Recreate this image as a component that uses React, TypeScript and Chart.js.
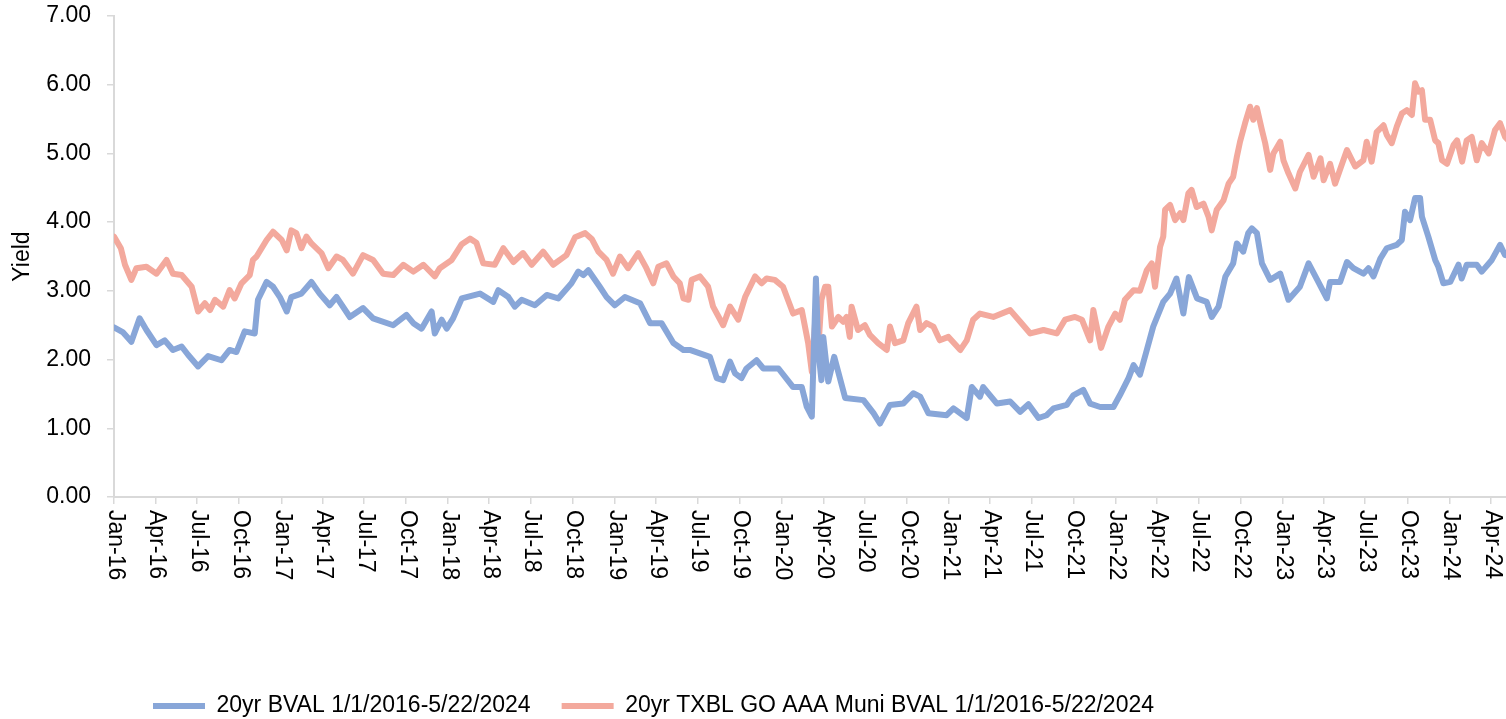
import { useEffect, useRef } from 'react';
import { Chart, registerables } from 'chart.js';

Chart.register(...registerables);

const seriesNames = ['20yr BVAL 1/1/2016-5/22/2024', '20yr TXBL GO AAA Muni BVAL 1/1/2016-5/22/2024'];
const seriesColors = ['#88A6D8', '#F3A99D'];

const tickLabels = [
  'Jan-16', 'Apr-16', 'Jul-16', 'Oct-16', 'Jan-17', 'Apr-17', 'Jul-17', 'Oct-17',
  'Jan-18', 'Apr-18', 'Jul-18', 'Oct-18', 'Jan-19', 'Apr-19', 'Jul-19', 'Oct-19',
  'Jan-20', 'Apr-20', 'Jul-20', 'Oct-20', 'Jan-21', 'Apr-21', 'Jul-21', 'Oct-21',
  'Jan-22', 'Apr-22', 'Jul-22', 'Oct-22', 'Jan-23', 'Apr-23', 'Jul-23', 'Oct-23',
  'Jan-24', 'Apr-24',
];

const axisStart = '2016-01-01';
const axisEnd = '2024-05-04';

const bvalDates = [
  '2016-01-01', '2016-01-20', '2016-02-08', '2016-02-26', '2016-03-12', '2016-04-03', '2016-04-21', '2016-05-09',
  '2016-05-28', '2016-06-11', '2016-07-03', '2016-07-25', '2016-08-23', '2016-09-10', '2016-09-25', '2016-10-13',
  '2016-11-04', '2016-11-11', '2016-11-30', '2016-12-14', '2016-12-29',
  '2017-01-13', '2017-01-23', '2017-02-14', '2017-03-08', '2017-03-26', '2017-04-17', '2017-05-02', '2017-05-31',
  '2017-06-29', '2017-07-21', '2017-09-03', '2017-10-02', '2017-10-17', '2017-11-04', '2017-11-26', '2017-12-03',
  '2017-12-18', '2017-12-29',
  '2018-01-12', '2018-01-31', '2018-03-12', '2018-04-10', '2018-04-21', '2018-05-13', '2018-05-27', '2018-06-11',
  '2018-07-10', '2018-08-05', '2018-08-30', '2018-09-28', '2018-10-13', '2018-10-24', '2018-11-04', '2018-11-29',
  '2018-12-14',
  '2019-01-01', '2019-01-23', '2019-02-25', '2019-03-19', '2019-04-13', '2019-05-09', '2019-05-31', '2019-06-14',
  '2019-07-28', '2019-08-12', '2019-08-26', '2019-09-10', '2019-09-21', '2019-10-05', '2019-10-16', '2019-11-07',
  '2019-11-22', '2019-12-25',
  '2020-01-26', '2020-02-14', '2020-02-25', '2020-03-07', '2020-03-16', '2020-03-21', '2020-03-28', '2020-04-01',
  '2020-04-12', '2020-04-25', '2020-05-19', '2020-06-28', '2020-07-20', '2020-08-03', '2020-08-25', '2020-09-23',
  '2020-10-15', '2020-10-30', '2020-11-17', '2020-12-27',
  '2021-01-11', '2021-02-09', '2021-02-20', '2021-03-10', '2021-03-17', '2021-04-16', '2021-05-15', '2021-06-06',
  '2021-06-24', '2021-07-16', '2021-08-03', '2021-08-18', '2021-09-16', '2021-09-30', '2021-10-22', '2021-11-06',
  '2021-11-28', '2021-12-27',
  '2022-01-10', '2022-01-29', '2022-02-09', '2022-02-23', '2022-03-10', '2022-03-24', '2022-04-15', '2022-04-30',
  '2022-05-14', '2022-05-29', '2022-06-10', '2022-06-28', '2022-07-19', '2022-07-30', '2022-08-14', '2022-08-29',
  '2022-09-15', '2022-09-23', '2022-10-07', '2022-10-18', '2022-10-26', '2022-11-06', '2022-11-17', '2022-12-05',
  '2022-12-27',
  '2023-01-14', '2023-02-08', '2023-02-27', '2023-03-18', '2023-04-08', '2023-04-15', '2023-05-07', '2023-05-22',
  '2023-06-05', '2023-06-27', '2023-07-08', '2023-07-19', '2023-08-03', '2023-08-17', '2023-09-08', '2023-09-19',
  '2023-09-26', '2023-10-07', '2023-10-18', '2023-10-29', '2023-11-02', '2023-11-16', '2023-12-01', '2023-12-08',
  '2023-12-19',
  '2024-01-03', '2024-01-21', '2024-01-28', '2024-02-08', '2024-03-01', '2024-03-12', '2024-04-03', '2024-04-21',
  '2024-05-02', '2024-05-22',
];
const bvalValues = [
  2.47, 2.40, 2.26, 2.60, 2.43, 2.21, 2.28, 2.14,
  2.19, 2.07, 1.90, 2.05, 1.99, 2.14, 2.11, 2.41,
  2.38, 2.87, 3.13, 3.06, 2.91,
  2.70, 2.91, 2.96, 3.13, 2.96, 2.79, 2.91, 2.62,
  2.75, 2.60, 2.50, 2.65, 2.53, 2.45, 2.70, 2.38,
  2.58, 2.45,
  2.60, 2.89, 2.96, 2.84, 3.01, 2.91, 2.77, 2.87,
  2.79, 2.94, 2.89, 3.11, 3.28, 3.23, 3.30, 3.06,
  2.91,
  2.79, 2.91, 2.82, 2.53, 2.53, 2.24, 2.14, 2.14,
  2.04, 1.73, 1.70, 1.97, 1.80, 1.73, 1.87, 1.99,
  1.87, 1.87,
  1.60, 1.60, 1.31, 1.17, 3.18, 2.14, 1.70, 2.33,
  1.68, 2.04, 1.44, 1.41, 1.22, 1.07, 1.34, 1.36,
  1.51, 1.46, 1.22, 1.19,
  1.29, 1.15, 1.60, 1.46, 1.60, 1.36, 1.39, 1.24,
  1.35, 1.15, 1.19, 1.29, 1.34, 1.48, 1.56, 1.36,
  1.31, 1.31,
  1.48, 1.73, 1.92, 1.78, 2.14, 2.48, 2.84, 2.96,
  3.18, 2.67, 3.20, 2.89, 2.84, 2.62, 2.77, 3.21,
  3.40, 3.69, 3.57, 3.84, 3.91, 3.84, 3.40, 3.16,
  3.25,
  2.87, 3.06, 3.40, 3.16, 2.89, 3.13, 3.13, 3.42,
  3.33, 3.25, 3.33, 3.21, 3.47, 3.62, 3.67, 3.74,
  4.15, 4.03, 4.35, 4.35, 4.08, 3.79, 3.45, 3.35,
  3.11,
  3.13, 3.38, 3.18, 3.38, 3.38, 3.28, 3.45, 3.67,
  3.52, 3.50,
];

const muniDates = [
  '2016-01-01', '2016-01-16', '2016-01-25', '2016-02-08', '2016-02-19', '2016-03-12', '2016-04-03', '2016-04-25',
  '2016-05-09', '2016-05-28', '2016-06-19', '2016-07-03', '2016-07-18', '2016-07-29', '2016-08-09', '2016-08-27',
  '2016-09-10', '2016-09-21', '2016-10-06', '2016-10-24', '2016-10-31', '2016-11-08', '2016-11-30', '2016-12-14',
  '2017-01-02', '2017-01-13', '2017-01-23', '2017-02-03', '2017-02-14', '2017-02-25', '2017-03-08', '2017-03-30',
  '2017-04-14', '2017-05-02', '2017-05-16', '2017-06-07', '2017-06-29', '2017-07-21', '2017-08-12', '2017-09-03',
  '2017-09-25', '2017-10-17', '2017-11-08', '2017-12-03', '2017-12-14',
  '2018-01-09', '2018-01-31', '2018-02-18', '2018-03-04', '2018-03-19', '2018-04-13', '2018-05-02', '2018-05-24',
  '2018-06-14', '2018-07-03', '2018-07-28', '2018-08-19', '2018-09-17', '2018-10-06', '2018-10-28', '2018-11-12',
  '2018-11-26', '2018-12-14', '2018-12-28',
  '2019-01-12', '2019-01-30', '2019-02-21', '2019-03-11', '2019-03-26', '2019-04-06', '2019-04-24', '2019-05-09',
  '2019-05-23', '2019-05-31', '2019-06-11', '2019-06-18', '2019-07-06', '2019-07-24', '2019-08-04', '2019-08-26',
  '2019-09-10', '2019-09-28', '2019-10-13', '2019-11-04', '2019-11-18', '2019-11-29', '2019-12-17',
  '2020-01-04', '2020-01-26', '2020-02-14', '2020-02-28', '2020-03-07', '2020-03-14', '2020-03-21', '2020-03-28',
  '2020-04-05', '2020-04-12', '2020-04-20', '2020-05-04', '2020-05-15', '2020-05-22', '2020-05-29', '2020-06-02',
  '2020-06-16', '2020-07-01', '2020-07-12', '2020-07-30', '2020-08-18', '2020-08-25', '2020-09-05', '2020-09-23',
  '2020-10-04', '2020-10-22', '2020-10-30', '2020-11-13', '2020-11-28', '2020-12-12', '2020-12-31',
  '2021-01-26', '2021-02-09', '2021-02-23', '2021-03-10', '2021-04-08', '2021-05-15', '2021-06-06', '2021-06-28',
  '2021-07-27', '2021-08-25', '2021-09-12', '2021-10-04', '2021-10-19', '2021-11-06', '2021-11-13', '2021-11-30',
  '2021-12-16', '2021-12-31',
  '2022-01-10', '2022-01-21', '2022-02-09', '2022-02-23', '2022-03-10', '2022-03-21', '2022-03-28', '2022-04-08',
  '2022-04-15', '2022-04-19', '2022-04-30', '2022-05-11', '2022-05-22', '2022-05-29', '2022-06-09', '2022-06-16',
  '2022-06-27', '2022-07-12', '2022-07-23', '2022-07-30', '2022-08-10', '2022-08-25', '2022-09-05', '2022-09-15',
  '2022-09-23', '2022-09-30', '2022-10-11', '2022-10-22', '2022-10-29', '2022-11-06', '2022-11-17', '2022-11-24',
  '2022-12-05', '2022-12-12', '2022-12-27',
  '2023-01-03', '2023-01-14', '2023-01-29', '2023-02-08', '2023-02-27', '2023-03-10', '2023-03-25', '2023-04-01',
  '2023-04-15', '2023-04-26', '2023-05-14', '2023-05-22', '2023-06-09', '2023-06-27', '2023-07-04', '2023-07-15',
  '2023-07-26', '2023-08-10', '2023-08-17', '2023-08-28', '2023-09-08', '2023-09-19', '2023-09-30', '2023-10-11',
  '2023-10-18', '2023-10-25', '2023-11-02', '2023-11-09', '2023-11-20', '2023-12-01', '2023-12-08', '2023-12-16',
  '2023-12-27',
  '2024-01-10', '2024-01-18', '2024-01-29', '2024-02-08', '2024-02-19', '2024-03-01', '2024-03-12', '2024-03-27',
  '2024-04-10', '2024-04-21', '2024-05-02', '2024-05-22',
];
const muniValues = [
  3.79, 3.62, 3.38, 3.16, 3.33, 3.35, 3.25, 3.45,
  3.25, 3.23, 3.06, 2.70, 2.82, 2.72, 2.87, 2.77,
  3.01, 2.89, 3.11, 3.23, 3.45, 3.50, 3.74, 3.86,
  3.74, 3.59, 3.88, 3.84, 3.62, 3.79, 3.69, 3.55,
  3.33, 3.50, 3.45, 3.25, 3.52, 3.45, 3.25, 3.23,
  3.38, 3.28, 3.38, 3.21, 3.33,
  3.45, 3.68, 3.76, 3.70, 3.40, 3.38, 3.62, 3.42,
  3.55, 3.38, 3.57, 3.38, 3.52, 3.78, 3.84, 3.75,
  3.57, 3.45, 3.25,
  3.50, 3.33, 3.55, 3.33, 3.11, 3.35, 3.40, 3.21,
  3.11, 2.89, 2.87, 3.16, 3.21, 3.06, 2.77, 2.50,
  2.77, 2.58, 2.91, 3.21, 3.11, 3.18, 3.16,
  3.06, 2.67, 2.72, 2.24, 1.82, 2.53, 2.14, 2.87,
  3.06, 3.06, 2.48, 2.62, 2.55, 2.62, 2.33, 2.77,
  2.43, 2.50, 2.36, 2.24, 2.14, 2.48, 2.24, 2.28,
  2.53, 2.77, 2.43, 2.53, 2.48, 2.28, 2.33,
  2.14, 2.28, 2.58, 2.67, 2.62, 2.72, 2.55, 2.38,
  2.43, 2.38, 2.58, 2.62, 2.58, 2.28, 2.72, 2.17,
  2.48, 2.67,
  2.58, 2.87, 3.01, 3.00, 3.30, 3.40, 3.06, 3.64,
  3.79, 4.18, 4.25, 4.03, 4.13, 4.03, 4.42, 4.47,
  4.22, 4.27, 4.08, 3.88, 4.18, 4.32, 4.56, 4.66,
  4.95, 5.17, 5.44, 5.68, 5.49, 5.66, 5.34, 5.15,
  4.76, 5.00, 5.17,
  4.90, 4.71, 4.49, 4.73, 4.98, 4.66, 4.93, 4.61,
  4.85, 4.56, 4.90, 5.05, 4.81, 4.90, 5.17, 4.88,
  5.31, 5.41, 5.27, 5.15, 5.39, 5.58, 5.63, 5.56,
  6.02, 5.90, 5.92, 5.49, 5.49, 5.19, 5.15, 4.90,
  4.85,
  5.12, 5.19, 4.88, 5.19, 5.24, 4.90, 5.15, 5.00,
  5.34, 5.44, 5.24, 5.10,
];

const MONTHS = ['Jan', 'Feb', 'Mar', 'Apr', 'May', 'Jun', 'Jul', 'Aug', 'Sep', 'Oct', 'Nov', 'Dec'];
const DAY = 86400000;
const startMs = Date.UTC(2016, 0, 1);
const dayOf = (s: string) => {
  const [y, m, d] = s.split('-').map(Number);
  return (Date.UTC(y, m - 1, d) - startMs) / DAY;
};
const tickDay = (lab: string) => {
  const [mon, yy] = lab.split('-');
  return (Date.UTC(2000 + Number(yy), MONTHS.indexOf(mon), 1) - startMs) / DAY;
};
const toPoints = (dates: string[], vals: number[]) => dates.map((d, i) => ({ x: dayOf(d), y: vals[i] }));

const FONT = '"Liberation Sans", Arial, sans-serif';
const FONT_SIZE = 23;

const xLabelPlugin = {
  id: 'xLabels',
  afterDraw(chart: any) {
    const sc = chart.scales.x;
    const ctx = chart.ctx;
    ctx.save();
    ctx.font = `${FONT_SIZE}px ${FONT}`;
    ctx.fillStyle = '#000';
    ctx.textAlign = 'left';
    ctx.textBaseline = 'middle';
    tickLabels.forEach((lab) => {
      const px = sc.getPixelForValue(tickDay(lab));
      ctx.save();
      ctx.translate(px + 1, chart.chartArea.bottom + 13);
      ctx.rotate(Math.PI / 2);
      ctx.fillText(lab, 0, 0);
      ctx.restore();
    });
    ctx.restore();
  },
};

const legendPlacePlugin = {
  id: 'legendPlace',
  afterLayout(chart: any) {
    const lg = chart.legend;
    if (!lg) return;
    const P = lg.options.labels.padding;
    const h = lg.legendHitBoxes && lg.legendHitBoxes[0] ? lg.legendHitBoxes[0].height : FONT_SIZE;
    lg.left = 153 - P;
    lg.top = 706 - P - h / 2;
  },
};

export default function App() {
  const canvasRef = useRef<HTMLCanvasElement | null>(null);

  useEffect(() => {
    if (!canvasRef.current) return;
    Chart.defaults.font.family = FONT;
    Chart.defaults.color = '#000';
    const chart = new Chart(canvasRef.current, {
      type: 'line',
      data: {
        datasets: [
          {
            label: seriesNames[0],
            data: toPoints(bvalDates, bvalValues),
            borderColor: seriesColors[0],
            backgroundColor: seriesColors[0],
            borderWidth: 6,
            pointRadius: 0,
            tension: 0,
            borderJoinStyle: 'round',
            borderCapStyle: 'round',
          },
          {
            label: seriesNames[1],
            data: toPoints(muniDates, muniValues),
            borderColor: seriesColors[1],
            backgroundColor: seriesColors[1],
            borderWidth: 6,
            pointRadius: 0,
            tension: 0,
            borderJoinStyle: 'round',
            borderCapStyle: 'round',
          },
        ],
      },
      options: {
        animation: false,
        responsive: true,
        maintainAspectRatio: false,
        events: [],
        layout: { padding: { top: 16, left: 0, right: 0, bottom: 0 } },
        plugins: {
          tooltip: { enabled: false },
          legend: {
            display: true,
            position: 'bottom',
            align: 'start',
            labels: {
              usePointStyle: true,
              pointStyle: 'line',
              pointStyleWidth: 52,
              boxHeight: 5,
              padding: 31,
              color: '#000',
              font: { size: FONT_SIZE, family: FONT },
            },
          },
        },
        scales: {
          x: {
            type: 'linear',
            min: dayOf(axisStart),
            max: dayOf(axisEnd),
            afterBuildTicks: (scale: any) => {
              scale.ticks = tickLabels.map((l) => ({ value: tickDay(l) }));
            },
            afterFit: (scale: any) => {
              const lgH = scale.chart.legend ? scale.chart.legend.height : 0;
              scale.height = 719 - 497 - lgH;
              scale.paddingLeft = 0;
              scale.paddingRight = 0;
            },
            ticks: { display: false, autoSkip: false },
            grid: {
              display: true,
              drawOnChartArea: false,
              drawTicks: true,
              tickLength: 7,
              color: '#D9D9D9',
              lineWidth: 1.5,
            },
            border: { display: true, color: '#D9D9D9', width: 2 },
          },
          y: {
            type: 'linear',
            min: 0,
            max: 7,
            afterFit: (scale: any) => {
              scale.width = 114;
              scale.paddingTop = 0;
              scale.paddingBottom = 0;
            },
            ticks: {
              stepSize: 1,
              padding: 16,
              color: '#000',
              font: { size: FONT_SIZE, family: FONT },
              callback: (v: any) => Number(v).toFixed(2),
            },
            grid: {
              display: true,
              drawOnChartArea: false,
              drawTicks: true,
              tickLength: 7,
              color: '#D9D9D9',
              lineWidth: 1.5,
            },
            border: { display: true, color: '#D9D9D9', width: 2 },
            title: {
              display: true,
              text: 'Yield',
              color: '#000',
              font: { size: FONT_SIZE, family: FONT },
              padding: { top: 9, bottom: 0 },
            },
          },
        },
      },
      plugins: [xLabelPlugin, legendPlacePlugin],
    });
    return () => chart.destroy();
  }, []);

  return (
    <div style={{ position: 'absolute', left: 0, top: 0, width: 1506, height: 719 }}>
      <canvas ref={canvasRef} />
    </div>
  );
}
